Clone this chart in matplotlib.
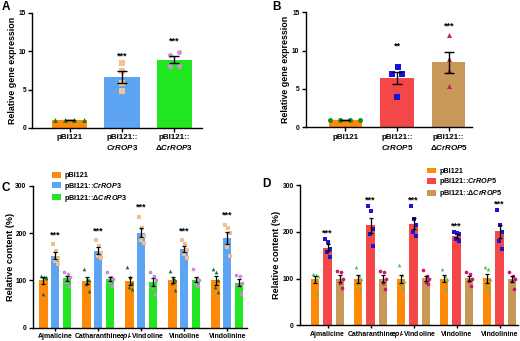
import numpy as np
import matplotlib
matplotlib.use("Agg")
import matplotlib.pyplot as plt
from matplotlib.patches import Patch

plt.rcParams['font.family'] = ['Liberation Sans', 'DejaVu Sans']
plt.rcParams['font.weight'] = 'bold'
plt.rcParams['mathtext.fontset'] = 'custom'
plt.rcParams['mathtext.rm'] = 'Liberation Sans:bold'
plt.rcParams['mathtext.it'] = 'Liberation Sans:italic:bold'
plt.rcParams['mathtext.bf'] = 'Liberation Sans:bold'

# ---------------- data ----------------
# Panel A: relative gene expression (CrROP3)
a_labels = ['pBI121', 'pBI121::\n$\\mathit{CrROP3}$', 'pBI121::\n$\\mathit{ΔCrROP3}$']
a_ctrl = [0.98, 1.0, 1.0, 1.02]
a_rop = [8.42, 7.42, 5.81, 4.77]
a_drop = [9.5, 9.85, 8.1, 8.1]
a_stars = ['', '***', '***']

# Panel B: relative gene expression (CrROP5)
b_labels = ['pBI121', 'pBI121::\n$\\mathit{CrROP5}$', 'pBI121::\n$\\mathit{ΔCrROP5}$']
b_ctrl = [1.0, 1.0, 1.0, 1.0]
b_rop = [7.9, 6.9, 6.9, 4.0]
b_drop = [12.1, 8.87, 7.47, 5.39]
b_stars = ['', '**', '***']

# Panels C/D: relative content (%)
compounds = ['Ajmalicine', 'Catharanthine', '$\\mathit{epi}$-Vindoline', 'Vindoline', 'Vindolinine']

c_ctrl = [[110, 108, 105, 70, 107], [125, 103, 100, 92, 78], [128, 107, 95, 85, 82],
          [120, 105, 100, 95, 80], [125, 118, 100, 85, 75]]
c_rop = [[176, 162, 148, 140, 135], [185, 172, 158, 152, 148], [235, 210, 195, 185, 180],
         [185, 178, 165, 155, 148], [218, 212, 200, 170, 152]]
c_drop = [[117, 113, 108, 97, 88], [118, 108, 103, 97, 88], [118, 110, 100, 85, 72],
          [123, 105, 100, 92, 88], [112, 110, 95, 88, 72]]
c_legend = ['pBI121', 'pBI121::$\\mathit{CrROP3}$', 'pBI121::$\\mathit{ΔCrROP3}$']

d_ctrl = [[110, 108, 105, 100, 70], [125, 105, 98, 90, 78], [128, 108, 95, 88, 80],
          [120, 105, 100, 95, 80], [125, 120, 100, 85, 75]]
d_rop = [[185, 178, 164, 157, 145], [255, 245, 205, 195, 170], [255, 228, 215, 200, 190],
         [200, 198, 195, 185, 180], [247, 215, 200, 180, 163]]
d_drop = [[116, 113, 100, 90, 80], [117, 115, 100, 90, 78], [118, 105, 100, 92, 88],
          [115, 110, 100, 95, 85], [115, 105, 100, 95, 78]]
d_legend = ['pBI121', 'pBI121::$\\mathit{CrROP5}$', 'pBI121::$\\mathit{ΔCrROP5}$']
cd_stars = ['***', '***', '***', '***', '***']

# ---------------- style ----------------
ORANGE = '#FF8A0A'
BLUE = '#5DA5F2'
GREEN = '#22E622'
RED = '#F44848'
TAN = '#C89858'

def sem(v):
    v = np.asarray(v, float)
    return v.std(ddof=1) / np.sqrt(len(v))

def style_ax(ax, lw=1.0, xlen=3, xpad=1.5):
    for s in ['top', 'right']:
        ax.spines[s].set_visible(False)
    for s in ['left', 'bottom']:
        ax.spines[s].set_linewidth(lw)
    ax.tick_params(axis='y', direction='out', length=3, width=lw, pad=1.5, labelsize=4.8)
    ax.tick_params(axis='x', direction='out', length=xlen, width=lw, pad=xpad)

fig = plt.figure(figsize=(5.2, 3.41), dpi=100)

def px_axes(x0, x1, ytop, ybot):
    W, H = 520.0, 341.0
    return fig.add_axes([x0 / W, 1 - ybot / H, (x1 - x0) / W, (ybot - ytop) / H])

def expr_panel(ax, groups, colors, markers, mcolors, offs, width, stars, labels, xlim, star_off):
    x = np.arange(len(groups))
    means = [np.mean(g) for g in groups]
    errs = [sem(g) for g in groups]
    ax.bar(x, means, width=width, color=colors, zorder=1)
    for i, g in enumerate(groups):
        xs = x[i] + np.array(offs[i]) * width
        ax.scatter(xs, g, marker=markers[i], s=13, color=mcolors[i], zorder=2, linewidths=0)
    ax.errorbar(x, means, yerr=errs, fmt='none', ecolor='black', elinewidth=1.0,
                capsize=3.5, capthick=1.0, zorder=3)
    for i in range(len(groups)):
        if stars[i]:
            ax.text(x[i], means[i] + errs[i] + star_off, stars[i], ha='center', va='center',
                    fontsize=6.5, fontweight='bold')
    ax.set_xticks(x)
    ax.set_xticklabels(labels, fontsize=5.8, linespacing=1.3)
    ax.set_xlim(*xlim)
    ax.set_ylim(0, 15)
    ax.set_yticks([0, 5, 10, 15])
    style_ax(ax)
    ax.set_ylabel('Relative gene expression', fontsize=6.4, fontweight='bold')

# Panel A
axA = px_axes(32.3, 202, 12.7, 128)
expr_panel(axA, [a_ctrl, a_rop, a_drop], [ORANGE, BLUE, GREEN], ['^', 's', 'o'],
           ['#1F7A1F', '#F5C18C', '#D98BE6'],
           [[-0.42, -0.14, 0.14, 0.42], [0, 0, 0, 0], [-0.14, 0.14, -0.14, 0.14]],
           0.667, a_stars, a_labels, (-0.709, 2.524), 2.0)
axA.yaxis.set_label_coords(-0.093, 0.5)

# Panel B
axB = px_axes(305.7, 471.7, 12.3, 127.3)
expr_panel(axB, [b_ctrl, b_rop, b_drop], [ORANGE, RED, TAN], ['o', 's', '^'],
           ['#1E8C1E', '#1414D8', '#C71E63'],
           [[-0.45, -0.15, 0.15, 0.45], [0.02, -0.15, 0.15, 0], [0, 0, 0, 0]],
           0.64, b_stars, b_labels, (-0.766, 2.445), 3.3)
axB.yaxis.set_label_coords(-0.095, 0.5)

# content panels
pt_offs = [-0.3, 0.1, 0.35, -0.05, 0.28]

def content_panel(ax, ctrl, rop, drop, colors, markers, mcolors, offset, width, legend_labels,
                  xlim, legend_anchor, star_off, base_pad):
    x = np.arange(len(compounds))
    series = [ctrl, rop, drop]
    for k, data in enumerate(series):
        xs = x + (k - 1) * offset
        means = [np.mean(g) for g in data]
        errs = [sem(g) for g in data]
        ax.bar(xs, means, width=width, color=colors[k], zorder=1, label=legend_labels[k])
        for i, g in enumerate(data):
            ax.scatter(xs[i] + np.array(pt_offs) * width, g, marker=markers[k], s=7,
                       color=mcolors[k], zorder=2, linewidths=0)
        ax.errorbar(xs, means, yerr=errs, fmt='none', ecolor='black', elinewidth=0.9,
                    capsize=1.5, capthick=0.9, zorder=3)
    for i in range(len(compounds)):
        top = max(max(rop[i]), np.mean(rop[i]) + sem(rop[i]))
        ax.text(x[i], top + star_off, cd_stars[i], ha='center', va='center', fontsize=6.5,
                fontweight='bold')
    ax.set_xticks(x)
    ax.set_xticklabels(compounds, fontsize=4.95)
    for t in ax.get_xticklabels():
        t.set_verticalalignment('baseline')
    ax.set_xlim(*xlim)
    ax.set_ylim(0, 300)
    ax.set_yticks([0, 100, 200, 300])
    style_ax(ax, xlen=2, xpad=base_pad)
    ax.set_ylabel('Relative content (%)', fontsize=6.6, fontweight='bold')
    handles = [Patch(facecolor=c, edgecolor='none') for c in colors]
    ax.legend(handles, legend_labels, loc='upper left', bbox_to_anchor=legend_anchor,
              bbox_transform=fig.transFigure, frameon=False, prop=dict(size=5.2, weight='bold'),
              handlelength=1.2, handleheight=0.9, handletextpad=0.5, labelspacing=0.15,
              borderpad=0, borderaxespad=0)

axC = px_axes(32.7, 247, 186, 327.5)
content_panel(axC, c_ctrl, c_rop, c_drop, [ORANGE, BLUE, GREEN], ['^', 's', 'o'],
              ['#236B23', '#F0C090', '#C989DD'], 0.272, 0.193, c_legend,
              (-0.523, 4.46), (52 / 520, 1 - 172 / 341), 20, 5.4)
axC.yaxis.set_label_coords(-0.083, 0.5)

axD = px_axes(300, 518, 185, 325.3)
content_panel(axD, d_ctrl, d_rop, d_drop, [ORANGE, RED, TAN], ['^', 's', 'o'],
              ['#5DBE5D', '#1818D0', '#C8186A'], 0.29, 0.195, d_legend,
              (-0.64, 4.43), (427 / 520, 1 - 167.5 / 341), 12, 6.0)
axD.yaxis.set_label_coords(-0.085, 0.5)

# panel letters
for lab, x, y in [('A', 2, 1), ('B', 272, 1), ('C', 2, 182), ('D', 262, 178)]:
    fig.text(x / 520, 1 - y / 341, lab, ha='left', va='top', fontsize=8.5, fontweight='bold')

fig.savefig('out.png', dpi=100)
